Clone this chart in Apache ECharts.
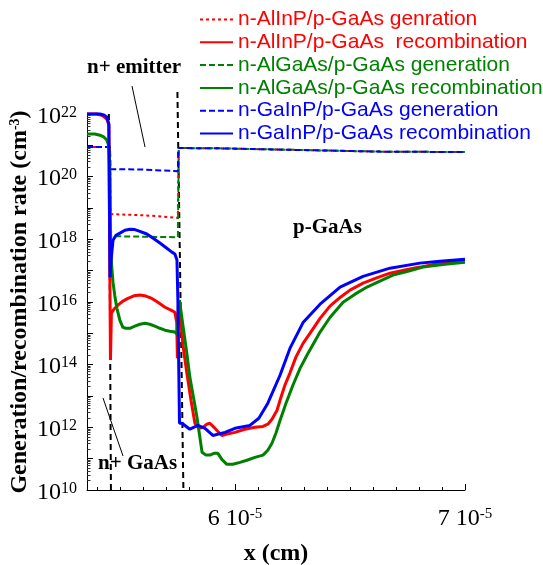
<!DOCTYPE html>
<html><head><meta charset="utf-8">
<script src="https://cdn.jsdelivr.net/npm/echarts@6/dist/echarts.min.js"></script>
<style>html,body{margin:0;padding:0;background:#fff}#c{width:543px;height:565px}</style>
</head><body><div id="c"></div>
<script>
// ---- data (x in cm, rates in cm^-3) ----
const xAlInPGen = [5.357e-5, 5.457e-5, 5.459e-5, 5.587e-5, 5.665e-5, 5.752e-5, 5.756e-5, 5.935e-5, 6.283e-5, 6.630e-5, 7.000e-5];
const yAlInPGen = [8.9e20, 8.9e20, 6.4e18, 5.9e18, 5.5e18, 4.8e18, 8.2e20, 8.0e20, 7.1e20, 6.3e20, 6.1e20];

const xAlInPRec = [5.357e-5, 5.400e-5, 5.417e-5, 5.430e-5, 5.443e-5, 5.452e-5, 5.459e-5, 5.463e-5, 5.474e-5, 5.491e-5, 5.513e-5, 5.535e-5, 5.561e-5, 5.587e-5, 5.613e-5, 5.639e-5, 5.665e-5, 5.696e-5, 5.722e-5, 5.739e-5, 5.747e-5, 5.750e-5, 5.754e-5, 5.761e-5, 5.774e-5, 5.791e-5, 5.809e-5, 5.826e-5, 5.843e-5, 5.861e-5, 5.878e-5, 5.891e-5, 5.909e-5, 5.926e-5, 5.943e-5, 5.961e-5, 6.000e-5, 6.043e-5, 6.087e-5, 6.122e-5, 6.143e-5, 6.161e-5, 6.183e-5, 6.196e-5, 6.217e-5, 6.239e-5, 6.265e-5, 6.296e-5, 6.326e-5, 6.370e-5, 6.413e-5, 6.457e-5, 6.500e-5, 6.557e-5, 6.613e-5, 6.674e-5, 6.739e-5, 6.804e-5, 6.891e-5, 7.000e-5];
const yAlInPRec = [1e22, 1e22, 9.3e21, 8.3e21, 6.9e21, 4.5e21, 1.4e14, 4.4e15, 5.9e15, 7.9e15, 1.07e16, 1.3e16, 1.58e16, 1.66e16, 1.55e16, 1.3e16, 9.8e15, 6.8e15, 5.5e15, 4.7e15, 2.2e15, 1.6e14, 7.4e15, 4.4e15, 4.2e14, 5.4e13, 7.3e12, 1.35e12, 9.3e11, 1.0e12, 1.26e12, 1.35e12, 1.0e12, 7.4e11, 5.5e11, 6.0e11, 6.9e11, 8.7e11, 1.0e12, 1.07e12, 1.26e12, 1.8e12, 3.5e12, 7.3e12, 2.2e13, 5.4e13, 1.74e14, 4.8e14, 1.0e15, 3.0e15, 7.4e15, 1.4e16, 2.4e16, 4.0e16, 5.8e16, 8.3e16, 1.05e17, 1.3e17, 1.74e17, 2.0e17];

const xAlGaAsGen = [5.357e-5, 5.457e-5, 5.459e-5, 5.587e-5, 5.752e-5, 5.756e-5, 5.935e-5, 6.283e-5, 6.630e-5, 7.000e-5];
const yAlGaAsGen = [8.9e20, 8.9e20, 1.26e18, 1.22e18, 1.17e18, 8.2e20, 8.0e20, 7.1e20, 6.3e20, 6.1e20];

const xAlGaAsRec = [5.357e-5, 5.391e-5, 5.413e-5, 5.430e-5, 5.443e-5, 5.452e-5, 5.457e-5, 5.459e-5, 5.461e-5, 5.465e-5, 5.470e-5, 5.478e-5, 5.487e-5, 5.500e-5, 5.513e-5, 5.526e-5, 5.543e-5, 5.565e-5, 5.587e-5, 5.609e-5, 5.630e-5, 5.652e-5, 5.674e-5, 5.696e-5, 5.717e-5, 5.739e-5, 5.748e-5, 5.759e-5, 5.774e-5, 5.791e-5, 5.804e-5, 5.822e-5, 5.835e-5, 5.857e-5, 5.874e-5, 5.891e-5, 5.909e-5, 5.926e-5, 5.943e-5, 5.965e-5, 5.991e-5, 6.022e-5, 6.052e-5, 6.087e-5, 6.122e-5, 6.143e-5, 6.161e-5, 6.178e-5, 6.196e-5, 6.222e-5, 6.252e-5, 6.283e-5, 6.313e-5, 6.370e-5, 6.413e-5, 6.470e-5, 6.522e-5, 6.574e-5, 6.630e-5, 6.687e-5, 6.752e-5, 6.817e-5, 6.913e-5, 7.000e-5];
const yAlGaAsRec = [2.3e21, 2.3e21, 2.1e21, 1.85e21, 1.48e21, 9.5e20, 1.1e20, 1.95e18, 3.2e17, 1.2e17, 4.3e16, 1.55e16, 6.3e15, 2.6e15, 1.55e15, 1.45e15, 1.45e15, 1.7e15, 1.95e15, 2.1e15, 1.95e15, 1.7e15, 1.45e15, 1.26e15, 1.17e15, 1.1e15, 9.3e14, 1.15e16, 1.8e15, 2.3e14, 4.0e13, 7.3e12, 2.1e12, 1.6e11, 1.3e11, 1.3e11, 1.48e11, 1.48e11, 9.5e10, 6.6e10, 6.6e10, 7.6e10, 8.9e10, 1.1e11, 1.3e11, 1.86e11, 3.1e11, 6.5e11, 1.66e12, 5.9e12, 2.2e13, 7.6e13, 2.0e14, 1.1e15, 3.2e15, 9.8e15, 1.78e16, 3.0e16, 4.6e16, 7.2e16, 9.5e16, 1.3e17, 1.6e17, 1.86e17];

const xGaInPGen = [5.357e-5, 5.457e-5, 5.459e-5, 5.587e-5, 5.752e-5, 5.754e-5, 5.935e-5, 6.283e-5, 6.630e-5, 7.000e-5];
const yGaInPGen = [8.9e20, 8.9e20, 1.74e20, 1.7e20, 1.5e20, 8.2e20, 8.0e20, 7.1e20, 6.3e20, 6.1e20];

const xGaInPRec = [5.357e-5, 5.413e-5, 5.430e-5, 5.443e-5, 5.452e-5, 5.457e-5, 5.461e-5, 5.470e-5, 5.483e-5, 5.500e-5, 5.522e-5, 5.543e-5, 5.565e-5, 5.587e-5, 5.617e-5, 5.643e-5, 5.674e-5, 5.704e-5, 5.726e-5, 5.739e-5, 5.748e-5, 5.752e-5, 5.759e-5, 5.770e-5, 5.804e-5, 5.839e-5, 5.870e-5, 5.904e-5, 5.957e-5, 6.000e-5, 6.065e-5, 6.104e-5, 6.143e-5, 6.196e-5, 6.239e-5, 6.296e-5, 6.370e-5, 6.457e-5, 6.557e-5, 6.674e-5, 6.804e-5, 6.891e-5, 7.000e-5];
const yGaInPRec = [1e22, 1e22, 9.3e21, 8.0e21, 4.8e21, 6.2e16, 1.9e17, 9.3e17, 1.35e18, 1.58e18, 1.95e18, 2.1e18, 2.05e18, 1.8e18, 1.48e18, 1.1e18, 7.6e17, 5.2e17, 3.9e17, 3.4e17, 2.2e17, 1.15e16, 1.35e12, 1.35e12, 8.7e11, 1.15e12, 9.3e11, 5.5e11, 6.9e11, 9.3e11, 1.15e12, 1.95e12, 5.9e12, 4.6e13, 3.3e14, 2.2e15, 8.5e15, 3.0e16, 6.6e16, 1.2e17, 1.74e17, 2.0e17, 2.3e17];

const seriesNames = ['n-AlInP/p-GaAs genration', 'n-AlInP/p-GaAs  recombination', 'n-AlGaAs/p-GaAs generation', 'n-AlGaAs/p-GaAs recombination', 'n-GaInP/p-GaAs generation', 'n-GaInP/p-GaAs recombination'];

// layer boundaries (dashed guides), each from top point to bottom point
const boundary1 = [[5.452e-5, 1e22], [5.461e-5, 1e10]];
const boundary2 = [[5.750e-5, 5e22], [5.776e-5, 1e10]];

const xMajorTicks = [6e-5, 7e-5];
const xMinorTicks = [5.4e-5, 5.5e-5, 5.6e-5, 5.7e-5, 5.8e-5, 5.9e-5, 6.1e-5, 6.2e-5, 6.3e-5, 6.4e-5, 6.5e-5, 6.6e-5, 6.7e-5, 6.8e-5, 6.9e-5];
const yLabelTicks = [1e10, 1e12, 1e14, 1e16, 1e18, 1e20, 1e22];
const yDecadeTicks = [1e10, 1e11, 1e12, 1e13, 1e14, 1e15, 1e16, 1e17, 1e18, 1e19, 1e20, 1e21, 1e22];
const yMinorTicks = [];
for (let d = 10; d < 22; d++) for (let m = 2; m <= 9; m++) yMinorTicks.push(m * Math.pow(10, d));

const pairs = (xs, ys) => xs.map((x, i) => [x, ys[i]]);
const RED = '#ff0000', GREEN = '#008000', BLUE = '#0000ff';
const SERIF = 'Liberation Serif';
const SANS = 'Liberation Sans';

const chart = echarts.init(document.getElementById('c'), null, {renderer: 'canvas'});

function mkSeries(name, data, color, width, type, z) {
  return {
    name: name, type: 'line', data: data, xAxisIndex: 0, yAxisIndex: 0,
    symbol: 'none', showSymbol: false, clip: false, z: z,
    lineStyle: {color: color, width: width, type: type},
    itemStyle: {color: color},
    emphasis: {disabled: true}, animation: false, silent: true
  };
}

const series = [
  mkSeries('boundary-1', boundary1, '#000', 2, [6, 4], 1),
  mkSeries('boundary-2', boundary2, '#000', 2, [6, 4], 1),
  mkSeries(seriesNames[0], pairs(xAlInPGen, yAlInPGen), RED, 2, [3, 3], 2),
  mkSeries(seriesNames[1], pairs(xAlInPRec, yAlInPRec), RED, 3, 'solid', 3),
  mkSeries(seriesNames[2], pairs(xAlGaAsGen, yAlGaAsGen), GREEN, 2, [6, 3], 2),
  mkSeries(seriesNames[3], pairs(xAlGaAsRec, yAlGaAsRec), GREEN, 3, 'solid', 3),
  mkSeries(seriesNames[4], pairs(xGaInPGen, yGaInPGen), BLUE, 2, [6, 3], 2),
  mkSeries(seriesNames[5], pairs(xGaInPRec, yGaInPRec), BLUE, 3, 'solid', 4)
];

const legendColors = [RED, RED, GREEN, GREEN, BLUE, BLUE];

const option = {
  backgroundColor: '#fff',
  animation: false,
  grid: {left: 87, top: 114, right: 78, bottom: 75, containLabel: false, outerBoundsMode: 'none'},
  legend: {
    orient: 'vertical', left: 199, top: 9, padding: 0, itemWidth: 33, itemHeight: 12, itemGap: 1.8,
    selectedMode: false,
    itemStyle: {opacity: 0},
    textStyle: {fontFamily: SANS, fontSize: 21, lineHeight: 21},
    data: seriesNames.map((n, i) => ({name: n, textStyle: {color: legendColors[i]}}))
  },
  xAxis: [
    {
      type: 'value', min: 5.357e-5, max: 7e-5, position: 'bottom',
      axisLine: {lineStyle: {color: '#000', width: 1}},
      axisTick: {inside: true, length: 6, customValues: xMajorTicks, lineStyle: {color: '#000'}},
      axisLabel: {
        customValues: xMajorTicks, margin: 17,
        formatter: v => '{b|' + Math.round(v * 1e5) + ' 10}{s|-5}',
        rich: {
          b: {fontFamily: SERIF, fontSize: 24, color: '#000'},
          s: {fontFamily: SERIF, fontSize: 15, color: '#000', verticalAlign: 'top'}
        }
      },
      splitLine: {show: false},
      name: 'x (cm)', nameLocation: 'middle', nameGap: 52, nameMoveOverlap: false,
      nameTextStyle: {fontFamily: SERIF, fontSize: 24, fontWeight: 'bold', color: '#000'}
    },
    {
      type: 'value', min: 5.357e-5, max: 7e-5, position: 'bottom', gridIndex: 0,
      axisLine: {show: false},
      axisTick: {inside: true, length: 3, customValues: xMinorTicks, lineStyle: {color: '#000'}},
      axisLabel: {show: false},
      splitLine: {show: false}
    }
  ],
  yAxis: [
    {
      type: 'log', logBase: 10, min: 1e10, max: 1e22, position: 'left',
      axisLine: {show: true, lineStyle: {color: '#000', width: 1}},
      axisTick: {inside: true, length: 6, customValues: yDecadeTicks, lineStyle: {color: '#000'}},
      axisLabel: {
        customValues: yLabelTicks, margin: 10, padding: [5, 0, 0, 0],
        formatter: v => '{b|10}{s|' + Math.round(Math.log10(v)) + '}',
        rich: {
          b: {fontFamily: SERIF, fontSize: 24, color: '#000'},
          s: {fontFamily: SERIF, fontSize: 16, color: '#000', verticalAlign: 'top'}
        }
      },
      splitLine: {show: false},
      name: 'Generation/recombination rate (cm{s|-3})', nameLocation: 'middle', nameGap: 55, nameRotate: 90,
      nameMoveOverlap: false,
      nameTextStyle: {
        fontFamily: SERIF, fontSize: 24, fontWeight: 'bold', color: '#000',
        rich: {s: {fontFamily: SERIF, fontSize: 14, fontWeight: 'bold', color: '#000', verticalAlign: 'top'}}
      }
    },
    {
      type: 'log', logBase: 10, min: 1e10, max: 1e22, position: 'left', gridIndex: 0,
      axisLine: {show: false},
      axisTick: {inside: true, length: 3.5, customValues: yMinorTicks, lineStyle: {color: '#333'}},
      axisLabel: {show: false},
      splitLine: {show: false}
    }
  ],
  graphic: [
    {type: 'text', x: 87, y: 68, style: {text: 'n+ emitter', font: 'bold 21px "Liberation Serif"', fill: '#000', textAlign: 'left', textVerticalAlign: 'middle', align: 'left', verticalAlign: 'middle'}},
    {type: 'line', shape: {x1: 132, y1: 86, x2: 145, y2: 147}, style: {stroke: '#000', lineWidth: 1}},
    {type: 'text', x: 98, y: 464, style: {text: 'n+ GaAs', font: 'bold 21px "Liberation Serif"', fill: '#000', textAlign: 'left', textVerticalAlign: 'middle', align: 'left', verticalAlign: 'middle'}},
    {type: 'line', shape: {x1: 103, y1: 398, x2: 123, y2: 456}, style: {stroke: '#000', lineWidth: 1}},
    {type: 'text', x: 293, y: 228, style: {text: 'p-GaAs', font: 'bold 21px "Liberation Serif"', fill: '#000', textAlign: 'left', textVerticalAlign: 'middle', align: 'left', verticalAlign: 'middle'}}
  ],
  series: series
};
chart.setOption(option);
</script>
</body></html>
